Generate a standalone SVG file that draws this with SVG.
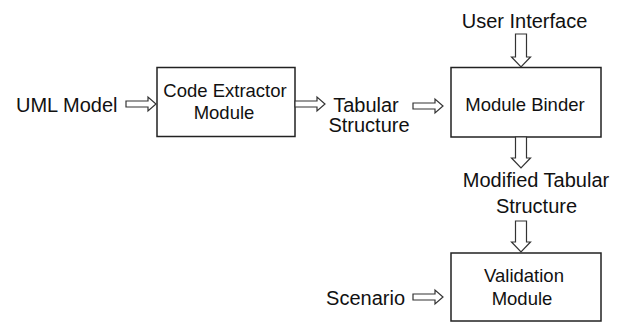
<svg xmlns="http://www.w3.org/2000/svg" width="623" height="322" viewBox="0 0 623 322">
<style>
.box{fill:#fff;stroke:#222;stroke-width:1.5}
.arr{fill:#fff;stroke:#333;stroke-width:1.2;stroke-linejoin:miter}
.lbl{font-family:"Liberation Sans",Arial,sans-serif;font-size:20px;fill:#111}
.bt{font-family:"Liberation Sans",Arial,sans-serif;font-size:18.5px;fill:#111;text-anchor:middle}
</style>
<rect width="623" height="322" fill="#fff"/>
<g id="uml-model"><text class="lbl" x="16" y="112">UML Model</text></g>
<g id="code-extractor">
<rect class="box" x="157" y="67.5" width="138" height="69"/>
<text class="bt" x="225" y="97">Code Extractor</text>
<text class="bt" x="224" y="119">Module</text>
</g>
<g id="tabular-structure">
<text class="lbl" x="366" y="112" text-anchor="middle">Tabular</text>
<text class="lbl" x="369" y="132" text-anchor="middle">Structure</text>
</g>
<g id="user-interface"><text class="lbl" x="524.5" y="28" text-anchor="middle">User Interface</text></g>
<g id="module-binder">
<rect class="box" x="451" y="67.5" width="150" height="69.5"/>
<text class="bt" x="525" y="111">Module Binder</text>
</g>
<g id="modified-tabular-structure">
<text class="lbl" x="536" y="187" text-anchor="middle">Modified Tabular</text>
<text class="lbl" x="536.5" y="213" text-anchor="middle">Structure</text>
</g>
<g id="scenario"><text class="lbl" x="405" y="305" text-anchor="end">Scenario</text></g>
<g id="validation-module">
<rect class="box" x="451" y="253" width="150" height="68"/>
<text class="bt" x="524" y="282">Validation</text>
<text class="bt" x="522" y="305">Module</text>
</g>
<g id="connectors">
<path class="arr" d="M126,101 H148 V97 L156,104 L148,111 V107 H126 Z"/>
<path class="arr" d="M295,101 H317 V97 L325,104 L317,111 V107 H295 Z"/>
<path class="arr" d="M413,103 H435 V99 L443,106 L435,113 V109 H413 Z"/>
<path class="arr" d="M413,294 H435 V290 L443,297 L435,304 V300 H413 Z"/>
<path class="arr" d="M515.5,34 V57 H511.5 L521,67 L530.5,57 H526.5 V34 Z"/>
<path class="arr" d="M515.5,137 V158 H511.5 L521,168 L530.5,158 H526.5 V137 Z"/>
<path class="arr" d="M515.5,221 V242 H511.5 L521,252 L530.5,242 H526.5 V221 Z"/>
</g>
</svg>
